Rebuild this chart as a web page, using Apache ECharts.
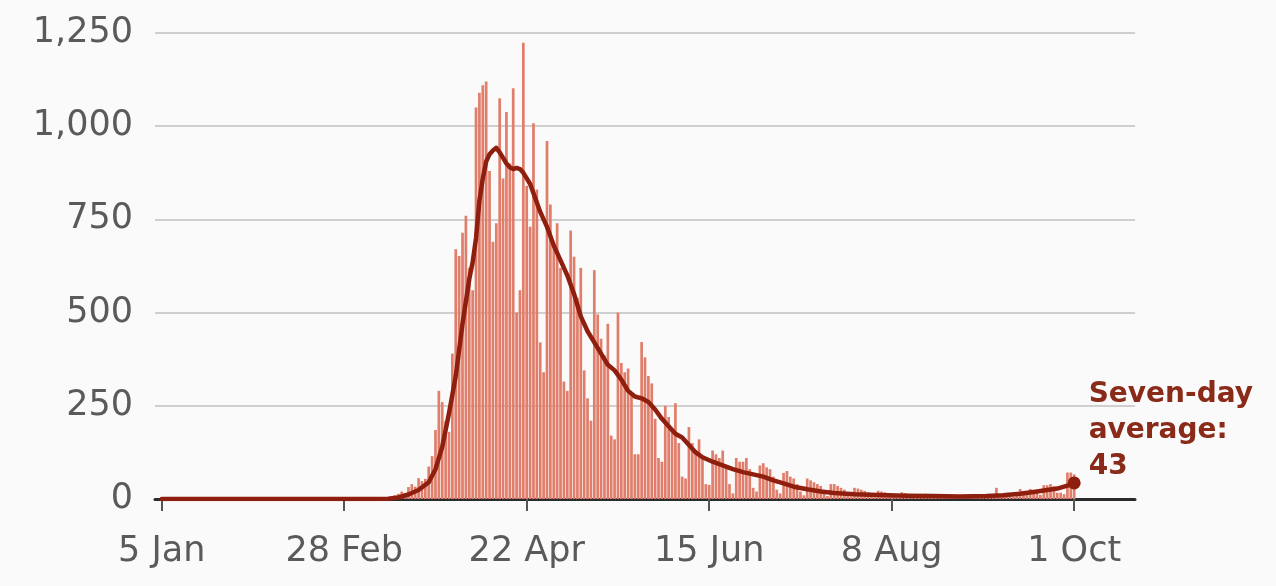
<!DOCTYPE html>
<html>
<head>
<meta charset="utf-8">
<script src="https://cdn.jsdelivr.net/npm/echarts@6/dist/echarts.min.js"></script>
<style>
  html, body { margin: 0; padding: 0; background: #fafafa; }
  #chart { width: 1276px; height: 586px; }
</style>
</head>
<body>
<div id="chart"></div>
<script>
// ---- data ----
const startDate = '2020-01-05';
const tickDates = ['2020-01-05', '2020-02-28', '2020-04-22', '2020-06-15', '2020-08-08', '2020-10-01'];
const tickLabels = ['5 Jan', '28 Feb', '22 Apr', '15 Jun', '8 Aug', '1 Oct'];
const yTicks = [0, 250, 500, 750, 1000, 1250];

// daily deaths, one value per day starting 1 Mar 2020
const barStart = '2020-03-01';
const dailyDeaths = [
  // March
  0,0,0,0,1,0,1,
  0,1,2,1,3,2,10,
  14,20,16,32,40,33,56,
  48,54,87,115,185,290,260,
  209,180,390,
  // April
  670,652,714,760,
  620,560,1050,1090,1110,1120,880,
  690,740,1075,860,1038,900,1102,
  500,560,1224,840,730,1008,830,
  420,340,960,790,680,
  // May
  740,620,
  315,290,720,650,540,620,345,
  270,210,614,495,430,385,470,
  170,160,500,365,340,350,280,
  120,120,421,380,330,310,215,
  110,
  // June
  100,250,220,180,257,150,
  60,55,193,150,130,160,110,
  40,38,130,120,110,130,90,
  40,15,110,100,100,110,80,
  30,20,90,
  // July
  96,85,80,60,
  25,15,70,75,60,55,40,
  20,10,55,50,45,40,35,
  15,8,40,40,35,30,25,
  10,7,30,28,25,22,
  // August
  18,
  8,5,22,20,18,16,12,
  6,4,18,16,14,12,10,
  5,4,14,12,11,10,8,
  4,3,12,10,9,8,7,
  3,2,
  // September
  10,8,9,8,6,
  4,3,30,8,12,10,8,
  6,9,27,20,21,27,18,
  18,11,37,37,40,34,17,
  17,13,71,71,
  // October
  66
];

// seven-day average
const avgDates = [
  '2020-01-05','2020-03-01','2020-03-08','2020-03-12','2020-03-15','2020-03-18','2020-03-21',
  '2020-03-24','2020-03-26','2020-03-28','2020-03-30','2020-04-01','2020-04-03','2020-04-05',
  '2020-04-06','2020-04-07','2020-04-08','2020-04-09','2020-04-10','2020-04-11','2020-04-12',
  '2020-04-13','2020-04-14','2020-04-15','2020-04-16','2020-04-17','2020-04-18','2020-04-19',
  '2020-04-20','2020-04-21','2020-04-22','2020-04-23','2020-04-24','2020-04-26','2020-04-28',
  '2020-04-30','2020-05-02','2020-05-04','2020-05-06','2020-05-08','2020-05-10','2020-05-12',
  '2020-05-14','2020-05-16','2020-05-18','2020-05-20','2020-05-22','2020-05-24','2020-05-26',
  '2020-05-28','2020-05-30','2020-06-01','2020-06-03','2020-06-05','2020-06-07','2020-06-09',
  '2020-06-11','2020-06-13','2020-06-16','2020-06-19','2020-06-22','2020-06-25','2020-06-28',
  '2020-07-01','2020-07-04','2020-07-07','2020-07-10','2020-07-14','2020-07-18','2020-07-22',
  '2020-07-28','2020-08-04','2020-08-12','2020-08-20','2020-08-28','2020-09-05','2020-09-10',
  '2020-09-15','2020-09-19','2020-09-23','2020-09-26','2020-09-29','2020-10-01'
];
const avgValues = [
  0,0,0,1,4,12,24,
  45,80,140,230,330,470,590,
  635,700,800,860,905,925,935,
  942,930,915,900,890,885,888,
  885,875,860,845,820,770,730,
  680,640,600,550,490,450,420,
  390,360,345,320,290,275,270,
  260,240,215,195,175,165,145,
  125,112,100,90,80,72,66,
  60,50,42,33,26,20,16,
  13,11,9,8,7,8,10,
  14,19,24,28,36,43
];

// ---- helpers ----
const DAY = 86400000;
const t0 = Date.parse(startDate + 'T00:00:00Z');
const dayIndex = s => Math.round((Date.parse(s + 'T00:00:00Z') - t0) / DAY);
const tickDays = tickDates.map(dayIndex);
const barOffset = dayIndex(barStart);
const barData = dailyDeaths.map((v, i) => [barOffset + i, v]);
const avgData = avgDates.map((d, i) => [dayIndex(d), avgValues[i]]);
const lastAvg = avgData[avgData.length - 1];

const chart = echarts.init(document.getElementById('chart'), null, { renderer: 'canvas' });
const FONT = '"DejaVu Sans", "Open Sans", sans-serif';

chart.setOption({
  backgroundColor: '#fafafa',
  animation: false,
  grid: { left: 155, top: 33, width: 980, height: 466, containLabel: false },
  xAxis: {
    type: 'value',
    min: -2,
    max: 288,
    splitLine: { show: false },
    axisLine: { show: true, onZero: false, lineStyle: { color: '#2b2b2b', width: 3 } },
    axisTick: { show: true, customValues: tickDays, length: 12, lineStyle: { color: '#555', width: 2 } },
    axisLabel: {
      show: true,
      customValues: tickDays,
      formatter: v => { const k = tickDays.indexOf(Math.round(v)); return k >= 0 ? tickLabels[k] : ''; },
      color: '#5a5a5a',
      fontFamily: FONT,
      fontSize: 35,
      margin: 35
    }
  },
  yAxis: {
    type: 'value',
    min: yTicks[0],
    max: yTicks[yTicks.length - 1],
    interval: 250,
    axisLine: { show: false },
    axisTick: { show: false },
    splitLine: { show: true, lineStyle: { color: '#cfcfcf', width: 2 } },
    axisLabel: {
      formatter: v => v.toLocaleString('en-GB'),
      color: '#5a5a5a',
      fontFamily: FONT,
      fontSize: 35,
      margin: 22
    }
  },
  series: [
    {
      type: 'bar',
      data: barData,
      barWidth: 2.7,
      itemStyle: { color: '#e07e6b' },
      z: 2
    },
    {
      type: 'line',
      data: avgData,
      showSymbol: false,
      smooth: false,
      lineStyle: { color: '#8e1f0f', width: 4.5, join: 'round', cap: 'round' },
      z: 3
    },
    {
      type: 'scatter',
      data: [lastAvg],
      symbol: 'circle',
      symbolSize: 13,
      itemStyle: { color: '#8e1f0f', opacity: 1 },
      label: {
        show: true,
        position: 'right',
        distance: 8,
        offset: [0, -52],
        formatter: p => 'Seven-day\naverage:\n' + p.value[1],
        color: '#8a2a18',
        fontFamily: FONT,
        fontWeight: 'bold',
        fontSize: 28,
        lineHeight: 36,
        align: 'left'
      },
      z: 4
    }
  ]
});
</script>
</body>
</html>
